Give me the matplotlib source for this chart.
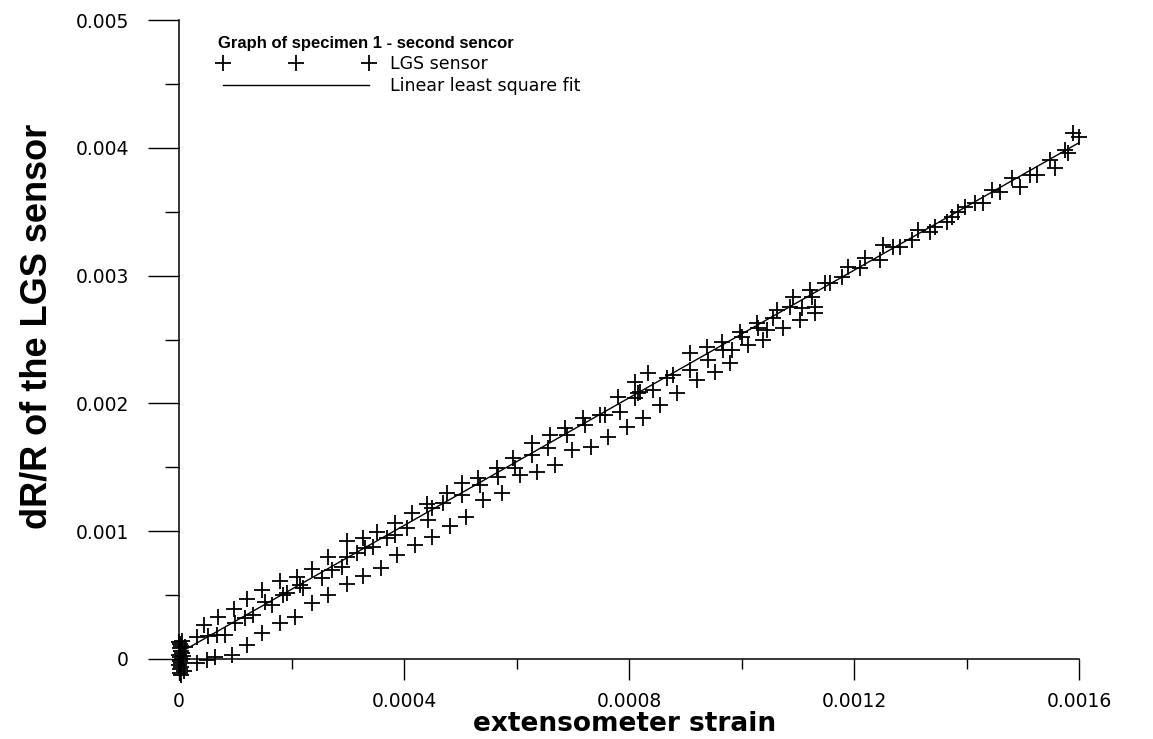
import matplotlib
matplotlib.use("Agg")
import matplotlib.pyplot as plt
from matplotlib.lines import Line2D
from matplotlib.ticker import FixedLocator, FixedFormatter, MultipleLocator

# values: strain in microstrain, dR/R in units of 1e-6
origin_strain = [0, 2, 4, 1, 3, 6, 0, 2, 5, 1, 3, 0, 4, 2, 8, 1, 10, 5, 7, 3]
origin_drr = [135, 115, 100, 85, 65, 50, 30, 15, 0, -15, -30, -50, -65, -80,
              -95, -110, 95, 140, 20, -125]

lower_strain = [32, 50, 64, 94, 121, 148, 180, 206, 236, 265, 299, 327, 359,
                388, 420, 450, 482, 510, 540, 574, 606, 636, 668, 699, 732,
                763, 796, 825, 855, 885, 921, 953, 980, 1012, 1038, 1074,
                1104, 1131, 1131]
lower_drr = [-31, -8, 16, 31, 110, 203, 282, 329, 438, 501, 587, 650, 712,
             814, 892, 955, 1041, 1111, 1244, 1299, 1440, 1463, 1518, 1635,
             1659, 1737, 1815, 1886, 1988, 2081, 2183, 2246, 2316, 2457,
             2496, 2590, 2653, 2707, 2754]

upper_strain = [44, 69, 98, 121, 148, 180, 210, 236, 265, 299, 327, 352, 384,
                414, 441, 469, 476, 503, 532, 565, 594, 628, 660, 686, 718,
                748, 757, 780, 811, 834, 908, 939, 965, 997, 1028, 1056, 1063,
                1092, 1122, 1148, 1157, 1189, 1220]
upper_drr = [266, 329, 391, 470, 540, 610, 642, 704, 798, 923, 947, 994, 1064,
             1142, 1213, 1221, 1299, 1377, 1416, 1495, 1573, 1690, 1753, 1808,
             1886, 1909, 1909, 2050, 2168, 2238, 2394, 2441, 2481, 2559, 2629,
             2668, 2731, 2833, 2887, 2942, 2942, 3067, 3138]

middle_strain = [32, 52, 68, 82, 100, 117, 132, 153, 165, 185, 192, 215, 220,
                 254, 272, 290, 299, 316, 331, 345, 370, 384, 405, 443, 450,
                 503, 535, 567, 597, 628, 656, 690, 722, 784, 816, 811, 820,
                 843, 868, 878, 908, 940, 967, 983, 1001, 1029, 1045, 1086,
                 1108, 1125, 1179, 1211, 1246, 1252, 1269, 1282, 1303, 1314,
                 1335, 1344, 1365, 1374, 1385, 1397, 1415, 1429, 1445, 1460,
                 1481, 1495, 1513, 1525, 1548, 1557, 1575, 1580, 1590, 1600]
middle_drr = [172, 180, 188, 188, 282, 321, 344, 446, 423, 501, 516, 579, 556,
              634, 696, 720, 798, 829, 869, 876, 947, 970, 1025, 1088, 1182,
              1283, 1362, 1424, 1495, 1596, 1651, 1753, 1831, 1933, 2081,
              2042, 2089, 2105, 2199, 2222, 2261, 2340, 2418, 2418, 2520,
              2590, 2574, 2754, 2747, 2833, 2989, 3060, 3122, 3240, 3224,
              3224, 3279, 3357, 3341, 3380, 3420, 3459, 3498, 3537, 3568,
              3568, 3670, 3654, 3764, 3693, 3787, 3787, 3905, 3842, 3983,
              3959, 4116, 4085]

# linear least square fit, end points
fit_strain = [10, 1600]
fit_drr = [71, 4040]

xticks = [0, 0.0004, 0.0008, 0.0012, 0.0016]
xtick_labels = ['0', '0.0004', '0.0008', '0.0012', '0.0016']
yticks = [0, 0.001, 0.002, 0.003, 0.004, 0.005]
ytick_labels = ['0', '0.001', '0.002', '0.003', '0.004', '0.005']

scale = 1e-6

fig = plt.figure(figsize=(11.53, 7.39), dpi=100)
ax = fig.add_axes([179 / 1153, 1 - 659 / 739, 900 / 1153, 639 / 739])

pts = dict(marker='+', linestyle='none', color='black', markersize=12,
           markeredgewidth=1.3, clip_on=False)
for xs, ys in [(origin_strain, origin_drr), (lower_strain, lower_drr),
               (upper_strain, upper_drr), (middle_strain, middle_drr)]:
    ax.plot([v * scale for v in xs], [v * scale for v in ys], **pts)

ax.plot([v * scale for v in fit_strain], [v * scale for v in fit_drr],
        color='black', linewidth=1.0, clip_on=False)

ax.set_xlim(0, 0.0016)
ax.set_ylim(0, 0.005)

for side in ['top', 'right']:
    ax.spines[side].set_visible(False)
for side in ['left', 'bottom']:
    ax.spines[side].set_linewidth(1.1)

ax.xaxis.set_major_locator(FixedLocator(xticks))
ax.xaxis.set_major_formatter(FixedFormatter(xtick_labels))
ax.xaxis.set_minor_locator(MultipleLocator(0.0002))
ax.yaxis.set_major_locator(FixedLocator(yticks))
ax.yaxis.set_major_formatter(FixedFormatter(ytick_labels))
ax.yaxis.set_minor_locator(MultipleLocator(0.0005))

ax.tick_params(axis='x', which='major', direction='out', length=15, width=1.0,
               pad=9, labelsize=13.5)
ax.tick_params(axis='x', which='minor', direction='out', length=7, width=1.0)
ax.tick_params(axis='y', which='major', direction='out', length=22, width=1.0,
               pad=14, labelsize=13.5)
ax.tick_params(axis='y', which='minor', direction='out', length=10, width=1.0)

ax.set_xlabel('extensometer strain', fontsize=19, fontweight='bold')
ax.xaxis.set_label_coords(0.495, -0.082)
ax.set_ylabel('dR/R of the LGS sensor', fontsize=26, fontweight='bold',
              family=['Liberation Sans', 'DejaVu Sans'])
ax.yaxis.set_label_coords(-0.138, 0.521)

h_pts = Line2D([], [], **pts)
h_fit = Line2D([], [], color='black', linewidth=1.0)
leg = ax.legend([h_pts, h_fit], ['LGS sensor', 'Linear least square fit'],
                title='Graph of specimen 1 - second sencor',
                title_fontproperties={'weight': 'bold', 'size': 12,
                                      'family': ['Liberation Sans', 'DejaVu Sans']},
                loc='upper left', bbox_to_anchor=(0.043, 0.975), frameon=False,
                numpoints=3, handlelength=9.0, handletextpad=0.9,
                labelspacing=0.22, borderpad=0, borderaxespad=0,
                alignment='left', fontsize=12.5)

fig.savefig('out.png', dpi=100)
